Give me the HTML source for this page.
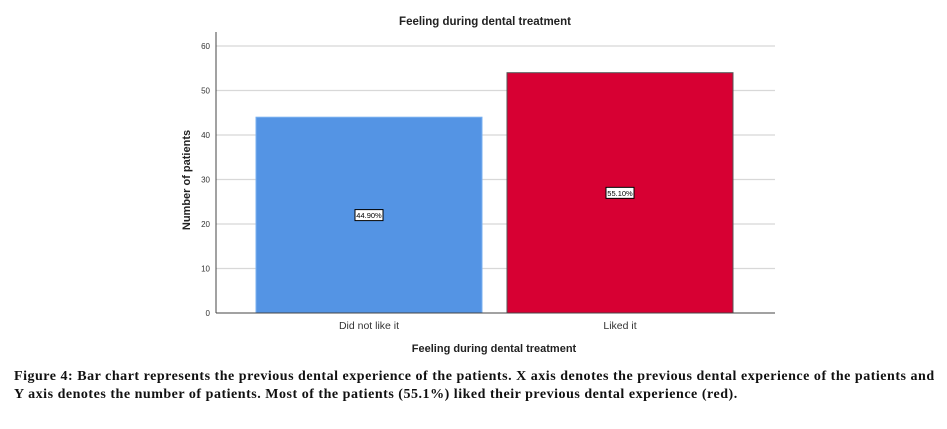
<!DOCTYPE html>
<html><head><meta charset="utf-8"><style>
body{margin:0;background:#fff;width:947px;height:429px;overflow:hidden;font-family:"Liberation Sans",sans-serif}
svg{position:absolute;left:0;top:0}
.cap{position:absolute;left:14px;top:368px;width:940px;white-space:nowrap;font-family:"Liberation Serif",serif;font-weight:bold;font-size:14px;letter-spacing:0.52px;line-height:18px;color:#111}
</style></head><body>
<svg width="947" height="429" id="chart"></svg>
<div class="cap">Figure 4: Bar chart represents the previous dental experience of the patients. X axis denotes the previous dental experience of the patients and<br>Y axis denotes the number of patients. Most of the patients (55.1%) liked their previous dental experience (red).</div>
<script>
const categories=["Did not like it","Liked it"];
const values=[44,54];
const pctLabels=["44.90%","55.10%"];
const colors=["#5494e4","#d70033"];
const yTicks=[0,10,20,30,40,50,60];
const NS="http://www.w3.org/2000/svg";
const svg=document.getElementById('chart');
const L=216,R=775,T=46,B=313;
const y=v=>B-(v/60)*(B-T);
const step=251, first=369, bw=226;
const xc=i=>first+i*step;
function mk(t,a,txt){const e=document.createElementNS(NS,t);for(const k in a)e.setAttribute(k,a[k]);if(txt!==undefined)e.textContent=txt;svg.appendChild(e);return e;}
let e=mk('text',{x:485,y:25,'text-anchor':'middle','font-size':'11.5','font-weight':'bold',fill:'#222'},'Feeling during dental treatment');


yTicks.forEach(t=>{
 if(t>0){const g=mk('line',{x1:L,x2:R,y1:y(t),y2:y(t),stroke:'#d8d8d8','stroke-width':1.3});
 
 }
 const tl=mk('text',{x:L-6,y:y(t)+3,'text-anchor':'end','font-size':'8',fill:'#333'},t);
 
 
});
values.forEach((v,i)=>{
 const cx=xc(i), bx=cx-bw/2;
 const r=mk('rect',{x:bx,y:y(v),width:bw,height:B-y(v),fill:colors[i],stroke:i?'#555':'#7ab0f0','stroke-width':1});
 
 
 const cy=(y(v)+B)/2;
 const lb=mk('rect',{x:cx-14,y:cy-5.5,width:28,height:11,fill:'#fff',stroke:'#000','stroke-width':1});
 
 
 const lt=mk('text',{x:cx,y:cy+3,'text-anchor':'middle','font-size':'7.5',fill:'#000'},pctLabels[i]);
 
 
 const xl=mk('text',{x:cx,y:329,'text-anchor':'middle','font-size':'10.5',fill:'#333'},categories[i]);
 
 
});
e=mk('line',{x1:L,x2:L,y1:32,y2:B,stroke:'#444','stroke-width':1});


e=mk('line',{x1:L,x2:R,y1:B,y2:B,stroke:'#444','stroke-width':1});


e=mk('text',{x:494,y:352,'text-anchor':'middle','font-size':'11','font-weight':'bold',fill:'#222'},'Feeling during dental treatment');


e=mk('text',{x:190,y:180,'text-anchor':'middle','font-size':'11','font-weight':'bold',fill:'#222',transform:'rotate(-90 190 180)'},'Number of patients');


</script>
</body></html>
